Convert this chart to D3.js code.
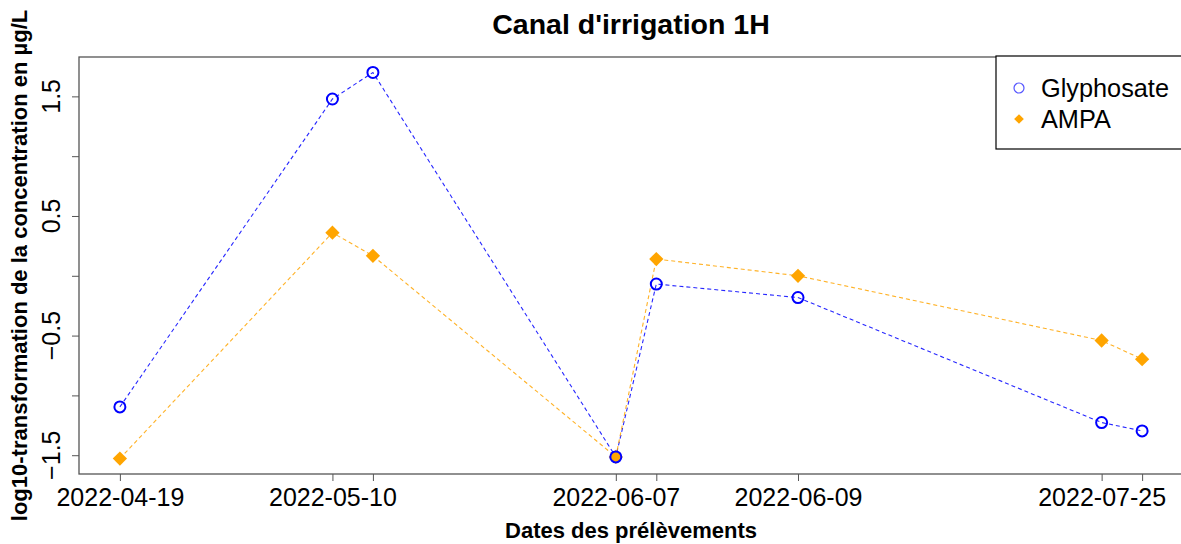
<!DOCTYPE html>
<html>
<head>
<meta charset="utf-8">
<script src="https://cdn.jsdelivr.net/npm/d3@7"></script>
<style>
  body { margin: 0; background: #fff; }
  svg { display: block; font-family: "Liberation Sans", Arial, sans-serif; }
</style>
</head>
<body>
<div id="chart"></div>
<script>
// sample positions on the numeric x axis, and their date labels (hidden ones left blank)
var sampleX = [0, 21, 25, 49, 53, 67, 97, 101],
    dateLabels = ["2022-04-19", "2022-05-10", "", "2022-06-07", "", "2022-06-09", "2022-07-25", ""];

// log10 concentrations
var glyphosate = [-1.096, 1.478, 1.700, -1.514, -0.069, -0.182, -1.227, -1.297],
    ampa = [-1.528, 0.360, 0.167, -1.514, 0.140, 0.000, -0.541, -0.697];

var yTicks = [-1.5, -1.0, -0.5, 0, 0.5, 1.0, 1.5],
    yLabels = [-1.5, -0.5, 0.5, 1.5];

var series = [
  {name: "Glyphosate", values: glyphosate, color: "#0000ff", shape: "circle"},
  {name: "AMPA", values: ampa, color: "#ffa500", shape: "diamond"}
];

var width = 1181, height = 544,
    margin = {top: 57, right: -2, bottom: 70, left: 79};

var svg = d3.select("#chart").append("svg")
    .attr("width", width)
    .attr("height", height);

// R style 4% padding on each side
function pad(ext) {
  var d = (ext[1] - ext[0]) * 0.04;
  return [ext[0] - d, ext[1] + d];
}

var x = d3.scaleLinear()
    .domain(pad(d3.extent(sampleX)))
    .range([margin.left, width - margin.right]);

var y = d3.scaleLinear()
    .domain(pad(d3.extent(glyphosate.concat(ampa))))
    .range([height - margin.bottom, margin.top]);

var fmt = d3.format(".1f");

// x axis
var xAxis = svg.append("g")
    .attr("transform", "translate(0," + (height - margin.bottom) + ")")
    .call(d3.axisBottom(x).tickValues(sampleX).tickSize(7).tickPadding(7)
      .tickFormat(function (d, i) { return dateLabels[i]; }));
xAxis.select(".domain").remove();
xAxis.selectAll("line").attr("stroke", "#555");
xAxis.selectAll("text").attr("font-size", 25).attr("fill", "#000")
    .attr("font-family", "Liberation Sans, Arial, sans-serif");

// y axis (labels rotated like R)
var yAxis = svg.append("g")
    .attr("transform", "translate(" + margin.left + ",0)")
    .call(d3.axisLeft(y).tickValues(yTicks).tickSize(7).tickFormat(""));
yAxis.select(".domain").remove();
yAxis.selectAll("line").attr("stroke", "#555");

svg.append("g").selectAll("text")
    .data(yLabels)
  .enter().append("text")
    .attr("transform", function (d) { return "translate(60," + y(d) + ") rotate(-90)"; })
    .attr("text-anchor", "middle")
    .attr("font-size", 25)
    .text(function (d) { return fmt(d); });

// plot box
svg.append("rect")
    .attr("x", margin.left)
    .attr("y", margin.top)
    .attr("width", width - margin.right - margin.left)
    .attr("height", height - margin.bottom - margin.top)
    .attr("fill", "none")
    .attr("stroke", "#555")
    .attr("stroke-width", 1.3);

// lines
var line = d3.line()
    .x(function (d, i) { return x(sampleX[i]); })
    .y(function (d) { return y(d); });

svg.append("g").selectAll("path")
    .data(series)
  .enter().append("path")
    .attr("d", function (s) { return line(s.values); })
    .attr("fill", "none")
    .attr("stroke", function (s) { return s.color; })
    .attr("stroke-width", 1.1)
    .attr("stroke-dasharray", "4,3")
    .attr("opacity", 0.85);

// points, AMPA first so the circles sit on top
var diamond = d3.symbol().type(d3.symbolDiamond2).size(130);

svg.append("g").selectAll("path")
    .data(ampa)
  .enter().append("path")
    .attr("transform", function (d, i) { return "translate(" + x(sampleX[i]) + "," + y(d) + ")"; })
    .attr("d", diamond)
    .attr("fill", "#ffa500");

svg.append("g").selectAll("circle")
    .data(glyphosate)
  .enter().append("circle")
    .attr("cx", function (d, i) { return x(sampleX[i]); })
    .attr("cy", function (d) { return y(d); })
    .attr("r", 5.5)
    .attr("fill", "none")
    .attr("stroke", "#0000ff")
    .attr("stroke-width", 2);

// titles
svg.append("text")
    .attr("x", (margin.left + width - margin.right) / 2)
    .attr("y", 34)
    .attr("text-anchor", "middle")
    .attr("font-size", 28.5)
    .attr("font-weight", "bold")
    .text("Canal d'irrigation 1H");

svg.append("text")
    .attr("x", (margin.left + width - margin.right) / 2)
    .attr("y", 538)
    .attr("text-anchor", "middle")
    .attr("font-size", 22)
    .attr("font-weight", "bold")
    .text("Dates des prélèvements");

svg.append("text")
    .attr("transform", "translate(27," + ((margin.top + height - margin.bottom) / 2) + ") rotate(-90)")
    .attr("text-anchor", "middle")
    .attr("font-size", 22)
    .attr("font-weight", "bold")
    .text("log10-transformation de la concentration en µg/L");

// legend
var legend = svg.append("g");
legend.append("rect")
    .attr("x", 996).attr("y", 56)
    .attr("width", 200).attr("height", 93)
    .attr("fill", "#fff")
    .attr("stroke", "#000")
    .attr("stroke-width", 1.2);

var items = legend.selectAll(".item")
    .data(series)
  .enter().append("g")
    .attr("transform", function (d, i) { return "translate(1019," + (88 + i * 31) + ")"; });

items.filter(function (d) { return d.shape === "circle"; })
  .append("circle")
    .attr("r", 5)
    .attr("fill", "none")
    .attr("stroke", "#5555ff")
    .attr("stroke-width", 1.2);

items.filter(function (d) { return d.shape === "diamond"; })
  .append("path")
    .attr("d", d3.symbol().type(d3.symbolDiamond2).size(60))
    .attr("fill", "#ffa500");

items.append("text")
    .attr("x", 22)
    .attr("dy", "0.35em")
    .attr("font-size", 25.3)
    .text(function (d) { return d.name; });
</script>
</body>
</html>
